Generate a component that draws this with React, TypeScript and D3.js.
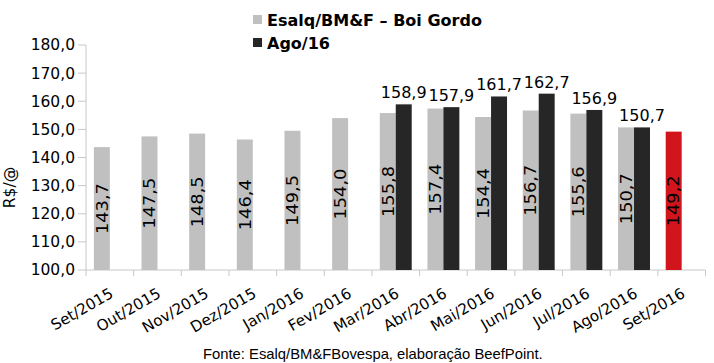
import React from 'react';
import { scaleBand, scaleLinear, range } from 'd3';

const W = 714;
const H = 363;

const months = ['Set/2015', 'Out/2015', 'Nov/2015', 'Dez/2015', 'Jan/2016', 'Fev/2016', 'Mar/2016',
  'Abr/2016', 'Mai/2016', 'Jun/2016', 'Jul/2016', 'Ago/2016', 'Set/2016'];
const esalq = [143.7, 147.5, 148.5, 146.4, 149.5, 154.0, 155.8, 157.4, 154.4, 156.7, 155.6, 150.7, 149.2];
const ago16 = [null, null, null, null, null, null, 158.9, 157.9, 161.7, 162.7, 156.9, 150.7, null];
const highlight = [false, false, false, false, false, false, false, false, false, false, false, false, true];
const yTicks = [100, 110, 120, 130, 140, 150, 160, 170, 180];

const GRAY = '#c0c0c0';
const DARK = '#262626';
const RED = '#d2151c';
const AXIS = '#c8c8c8';
const fmt = (v: number) => v.toFixed(1).replace('.', ',');

export default function App() {
  const left = 86, right = 705.5, top = 45, bottom = 270;
  const x = scaleBand().domain(months).range([left, right]).paddingInner(0).paddingOuter(0);
  const y = scaleLinear().domain([100, 180]).range([bottom, top]);
  const bw = x.bandwidth();
  const barW = bw * 0.335;
  const groupOff = (bw - 2 * barW) / 2;

  return (
    <svg width={W} height={H} style={{ position: 'absolute', left: 0, top: 0, background: '#fff' }}
      fontFamily="'DejaVu Sans', Verdana, sans-serif">
      {/* legend */}
      <rect x={253} y={15} width={9} height={9} fill={GRAY} />
      <text x={267} y={25.5} fontSize={16} fontWeight="bold">Esalq/BM&amp;F – Boi Gordo</text>
      <rect x={253} y={38} width={9} height={9} fill={DARK} />
      <text x={267} y={48.5} fontSize={16} fontWeight="bold">Ago/16</text>

      {/* y axis */}
      <line x1={left} x2={left} y1={top} y2={bottom} stroke={AXIS} />
      {yTicks.map(t => (
        <g key={t}>
          <line x1={left - 8} x2={left} y1={y(t)} y2={y(t)} stroke={AXIS} />
          <text x={left - 11} y={y(t)} dy="0.35em" textAnchor="end" fontSize={15.5}>{fmt(t)}</text>
        </g>
      ))}
      <text transform={`translate(15,${(top + bottom) / 2 + 30}) rotate(-90)`} textAnchor="middle" fontSize={15.5}>R$/@</text>

      {/* x axis */}
      <line x1={left} x2={right} y1={bottom} y2={bottom} stroke={AXIS} />
      {range(months.length + 1).map(i => (
        <line key={i} x1={left + i * bw} x2={left + i * bw} y1={bottom} y2={bottom + 6} stroke={AXIS} />
      ))}
      {months.map(m => (
        <text key={m} transform={`translate(${(x(m) as number) + bw / 2 + 4.5},${bottom + 26.5}) rotate(-30)`}
          textAnchor="end" fontSize={15.2}>{m}</text>
      ))}

      {/* bars */}
      {months.map((m, i) => {
        const x0 = (x(m) as number) + groupOff;
        const v = esalq[i];
        const b = ago16[i];
        return (
          <g key={m}>
            <rect x={x0} y={y(v)} width={barW} height={bottom - y(v)} fill={highlight[i] ? RED : GRAY} />
            <text transform={`translate(${x0 + barW / 2},${(y(v) + bottom) / 2}) rotate(-90)`}
              textAnchor="middle" dy="0.36em" fontSize={16} textLength={51} lengthAdjust="spacingAndGlyphs">{fmt(v)}</text>
            {b != null && (
              <g>
                <rect x={x0 + barW} y={y(b)} width={barW} height={bottom - y(b)} fill={DARK} />
                <text x={x0 + barW * 1.5} y={y(b) - 6} textAnchor="middle" fontSize={16}>{fmt(b)}</text>
              </g>
            )}
          </g>
        );
      })}

      <text x={203} y={359} fontSize={14.8} fontFamily="'Liberation Sans', Arial, sans-serif">
        Fonte: Esalq/BM&amp;FBovespa, elaboração BeefPoint.
      </text>
    </svg>
  );
}
